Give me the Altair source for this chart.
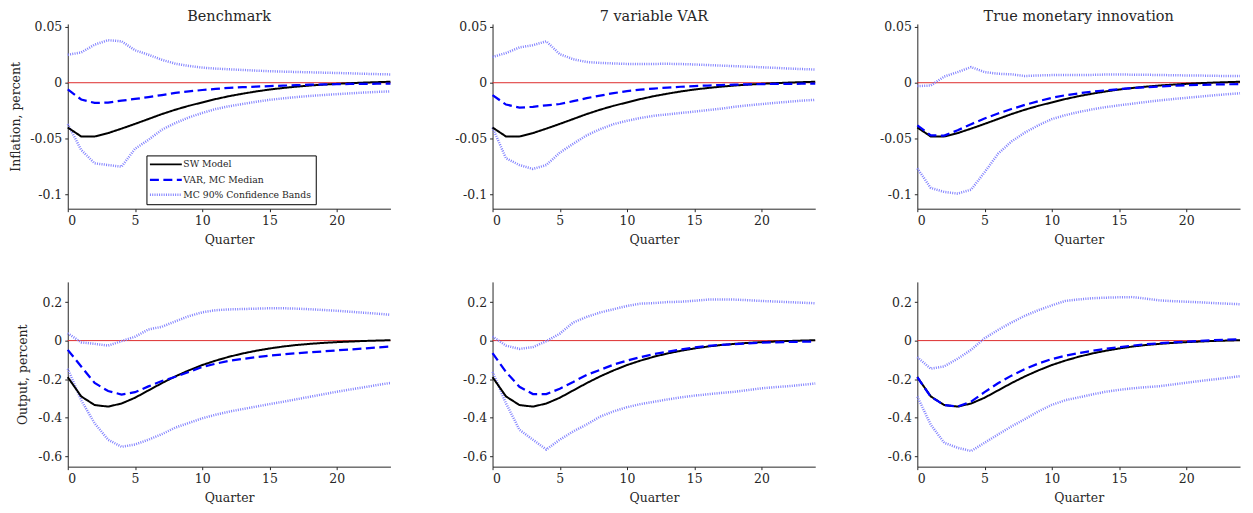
import altair as alt
import pandas as pd

quarters = list(range(25))

panel_titles = ["Benchmark", "7 variable VAR", "True monetary innovation"]
row_labels = ["Inflation, percent", "Output, percent"]
series_names = ["SW Model", "VAR, MC Median", "MC 90% Confidence Bands"]
x_ticks = [0, 5, 10, 15, 20]
infl_ticks = [-0.1, -0.05, 0, 0.05]
out_ticks = [-0.6, -0.4, -0.2, 0, 0.2]

# ---------------- Inflation (top row) ----------------
sw_infl = [-0.040, -0.048, -0.048, -0.045, -0.041, -0.0368, -0.0324, -0.028, -0.0241, -0.0206,
           -0.0176, -0.0146, -0.0120, -0.0098, -0.0078, -0.0061, -0.0047, -0.0035, -0.0025, -0.0017,
           -0.0010, -0.0004, 0.0001, 0.0005, 0.0009]

bench_infl_med = [-0.006, -0.015, -0.018, -0.0178, -0.016, -0.0145, -0.0128, -0.011, -0.009, -0.0078,
                  -0.0065, -0.0055, -0.0046, -0.004, -0.0035, -0.003, -0.0026, -0.0022, -0.0018, -0.0015,
                  -0.0013, -0.0011, -0.001, -0.0009, -0.0009]
bench_infl_hi = [0.025, 0.027, 0.034, 0.038, 0.037, 0.029, 0.025, 0.0205, 0.017, 0.015,
                 0.0135, 0.0126, 0.012, 0.0114, 0.0108, 0.0103, 0.0099, 0.0096, 0.0093, 0.009,
                 0.0087, 0.0084, 0.008, 0.0077, 0.0074]
bench_infl_lo = [-0.037, -0.060, -0.072, -0.0735, -0.075, -0.059, -0.051, -0.042, -0.036, -0.031,
                 -0.027, -0.0235, -0.021, -0.019, -0.017, -0.0153, -0.014, -0.0128, -0.0118, -0.011,
                 -0.0102, -0.0095, -0.0088, -0.0082, -0.0077]

var7_infl_med = [-0.011, -0.0195, -0.0222, -0.0215, -0.0202, -0.019, -0.0165, -0.0138, -0.0115, -0.0093,
                 -0.0075, -0.0062, -0.0052, -0.0043, -0.0036, -0.003, -0.0025, -0.0021, -0.0017, -0.0014,
                 -0.0012, -0.0011, -0.001, -0.0009, -0.0009]
var7_infl_hi = [0.023, 0.0265, 0.0315, 0.0335, 0.037, 0.0255, 0.021, 0.0185, 0.0177, 0.0172,
                0.0168, 0.0167, 0.0168, 0.0169, 0.0167, 0.0163, 0.0158, 0.0153, 0.0148, 0.0143,
                0.0138, 0.0133, 0.0127, 0.0122, 0.0118]
var7_infl_lo = [-0.040, -0.0675, -0.0735, -0.077, -0.0735, -0.0625, -0.0545, -0.047, -0.0415, -0.037,
                -0.034, -0.0315, -0.0295, -0.0283, -0.027, -0.0258, -0.0245, -0.0232, -0.0215, -0.0202,
                -0.0191, -0.018, -0.017, -0.016, -0.0153]

true_infl_med = [-0.038, -0.047, -0.0472, -0.0425, -0.037, -0.032, -0.0275, -0.0235, -0.0198, -0.0165,
                 -0.0135, -0.0112, -0.0095, -0.008, -0.0068, -0.0058, -0.0048, -0.004, -0.0033, -0.0027,
                 -0.0022, -0.0019, -0.0016, -0.0014, -0.0012]
true_infl_hi = [-0.003, -0.0025, 0.0055, 0.0095, 0.014, 0.0095, 0.008, 0.0075, 0.006, 0.0065,
                0.0068, 0.007, 0.0068, 0.007, 0.0073, 0.0073, 0.0072, 0.0071, 0.0069, 0.0067,
                0.0065, 0.0064, 0.0062, 0.006, 0.0059]
true_infl_lo = [-0.0765, -0.094, -0.0975, -0.099, -0.0955, -0.080, -0.0635, -0.0525, -0.0445, -0.038,
                -0.0325, -0.029, -0.0262, -0.0238, -0.0218, -0.0202, -0.0187, -0.0172, -0.0158, -0.0146,
                -0.0135, -0.0124, -0.0113, -0.0103, -0.0094]

# ---------------- Output (bottom row) ----------------
sw_out = [-0.19, -0.29, -0.335, -0.343, -0.327, -0.297, -0.259, -0.221, -0.186, -0.155,
          -0.127, -0.104, -0.084, -0.067, -0.053, -0.041, -0.031, -0.023, -0.017, -0.012,
          -0.008, -0.005, -0.002, 0.0, 0.002]

bench_out_med = [-0.048, -0.135, -0.22, -0.262, -0.28, -0.268, -0.238, -0.21, -0.188, -0.163,
                 -0.137, -0.12, -0.105, -0.095, -0.086, -0.078, -0.072, -0.066, -0.061, -0.056,
                 -0.051, -0.046, -0.041, -0.036, -0.031]
bench_out_hi = [0.038, -0.009, -0.017, -0.026, -0.003, 0.02, 0.058, 0.072, 0.1, 0.127,
                0.147, 0.158, 0.162, 0.164, 0.166, 0.168, 0.168, 0.166, 0.163, 0.159,
                0.155, 0.15, 0.145, 0.14, 0.134]
bench_out_lo = [-0.146, -0.31, -0.43, -0.515, -0.552, -0.54, -0.515, -0.486, -0.452, -0.428,
                -0.404, -0.385, -0.369, -0.356, -0.343, -0.33, -0.318, -0.305, -0.292, -0.279,
                -0.266, -0.254, -0.243, -0.231, -0.22]

var7_out_med = [-0.065, -0.163, -0.24, -0.278, -0.278, -0.25, -0.215, -0.178, -0.152, -0.125,
                -0.104, -0.086, -0.07, -0.058, -0.046, -0.036, -0.028, -0.022, -0.018, -0.014,
                -0.011, -0.009, -0.007, -0.006, -0.005]
var7_out_hi = [0.021, -0.026, -0.043, -0.034, -0.003, 0.036, 0.094, 0.123, 0.146, 0.163,
               0.18, 0.192, 0.195, 0.2, 0.202, 0.207, 0.213, 0.214, 0.213, 0.21,
               0.206, 0.203, 0.2, 0.197, 0.194]
var7_out_lo = [-0.163, -0.326, -0.463, -0.515, -0.566, -0.515, -0.472, -0.436, -0.395, -0.368,
               -0.346, -0.33, -0.318, -0.306, -0.295, -0.286, -0.279, -0.272, -0.266, -0.257,
               -0.248, -0.242, -0.237, -0.23, -0.223]

true_out_med = [-0.19, -0.292, -0.335, -0.343, -0.317, -0.268, -0.222, -0.182, -0.148, -0.119,
                -0.096, -0.079, -0.065, -0.053, -0.043, -0.034, -0.026, -0.019, -0.014, -0.009,
                -0.005, -0.002, 0.002, 0.005, 0.007]
true_out_hi = [-0.086, -0.146, -0.134, -0.094, -0.048, 0.012, 0.055, 0.094, 0.129, 0.158,
               0.183, 0.206, 0.214, 0.22, 0.223, 0.225, 0.226, 0.218, 0.209, 0.205,
               0.202, 0.199, 0.195, 0.192, 0.189]
true_out_lo = [-0.291, -0.437, -0.531, -0.557, -0.574, -0.531, -0.488, -0.446, -0.408, -0.368,
               -0.334, -0.31, -0.295, -0.28, -0.266, -0.256, -0.248, -0.242, -0.237, -0.228,
               -0.219, -0.21, -0.202, -0.194, -0.185]

FONT = "DejaVu Serif"
TXT = "#262626"
INFL_DOMAIN = [-0.1125, 0.0525]
OUT_DOMAIN = [-0.655, 0.305]
PW, PH = 324, 185.5
LABEL_EXPR = "replace(format(datum.value, '~g'), '\u2212', '-')"


def band_df(lo, hi):
    rows = []
    for q, v in zip(quarters, lo):
        rows.append({"q": q, "value": v, "series": series_names[2], "line": "lower"})
    for q, v in zip(quarters, hi):
        rows.append({"q": q, "value": v, "series": series_names[2], "line": "upper"})
    return pd.DataFrame(rows)


def single_df(vals, name):
    return pd.DataFrame({"q": quarters, "value": vals, "series": name, "line": name})


def panel(sw, med, lo, hi, title, ylabel, ydomain, yticks, title_x, show_legend):
    if show_legend:
        leg = alt.Legend(
            orient="none", legendX=79, legendY=132, title=None,
            symbolType="M-4,0H4", symbolSize=64, symbolOffset=10,
            labelOffset=12, labelFont=FONT, labelFontSize=9.3, labelColor=TXT,
            strokeColor="black", fillColor="white", padding=4, rowPadding=4,
        )
    else:
        leg = None
    xenc = alt.X("q:Q", scale=alt.Scale(domain=[0, 24], nice=False, zero=False),
                 axis=alt.Axis(values=x_ticks, title="Quarter", format="d"))
    if ylabel is None:
        yaxis = alt.Axis(values=yticks, title=None, labelExpr=LABEL_EXPR)
    else:
        yaxis = alt.Axis(values=yticks, title=ylabel, labelExpr=LABEL_EXPR,
                         titleX=title_x, titleBaseline="bottom")
    yenc = alt.Y("value:Q", scale=alt.Scale(domain=ydomain, nice=False, zero=False), axis=yaxis)
    color = alt.Color("series:N", scale=alt.Scale(domain=series_names, range=["#000000", "#0000ff", "#8080ff"]), legend=leg)
    dash = alt.StrokeDash("series:N", scale=alt.Scale(domain=series_names, range=[[1, 0], [9, 4.5], [1, 1.3]]), legend=leg)
    width = alt.StrokeWidth("series:N", scale=alt.Scale(domain=series_names, range=[2, 2.5, 0.7]), legend=leg)

    zero = alt.Chart(pd.DataFrame({"value": [0]})).mark_rule(color="#dd2c2c", strokeWidth=1).encode(y=yenc)
    bands = alt.Chart(band_df(lo, hi)).mark_line().encode(
        x=xenc, y=yenc, color=color, strokeDash=dash, strokeWidth=width, detail="line:N")
    swl = alt.Chart(single_df(sw, series_names[0])).mark_line().encode(
        x=xenc, y=yenc, color=color, strokeDash=dash, strokeWidth=width)
    medl = alt.Chart(single_df(med, series_names[1])).mark_line().encode(
        x=xenc, y=yenc, color=color, strokeDash=dash, strokeWidth=width)
    layered = alt.layer(zero, bands, swl, medl).properties(width=PW, height=PH)
    if title is not None:
        layered = layered.properties(title=alt.TitleParams(
            text=title, font=FONT, fontSize=14.5, fontWeight="normal", color=TXT,
            baseline="alphabetic", offset=-15, frame="group"))
    return layered


p1 = panel(sw_infl, bench_infl_med, bench_infl_lo, bench_infl_hi, panel_titles[0], row_labels[0], INFL_DOMAIN, infl_ticks, -45, True)
p2 = panel(sw_infl, var7_infl_med, var7_infl_lo, var7_infl_hi, panel_titles[1], None, INFL_DOMAIN, infl_ticks, -45, False)
p3 = panel(sw_infl, true_infl_med, true_infl_lo, true_infl_hi, panel_titles[2], None, INFL_DOMAIN, infl_ticks, -45, False)
p4 = panel(sw_out, bench_out_med, bench_out_lo, bench_out_hi, None, row_labels[1], OUT_DOMAIN, out_ticks, -38, False)
p5 = panel(sw_out, var7_out_med, var7_out_lo, var7_out_hi, None, None, OUT_DOMAIN, out_ticks, -38, False)
p6 = panel(sw_out, true_out_med, true_out_lo, true_out_hi, None, None, OUT_DOMAIN, out_ticks, -38, False)

chart = alt.concat(p1, p2, p3, p4, p5, p6, columns=3, spacing={"row": 73, "column": 102.5}, bounds="flush").resolve_scale(
    color="independent", strokeDash="independent", strokeWidth="independent", x="independent", y="independent"
).resolve_legend(
    color="independent", strokeDash="independent", strokeWidth="independent"
).properties(
    padding={"left": 2, "top": 0, "right": 0, "bottom": 0}
).configure_axis(
    labelFont=FONT, titleFont=FONT, labelFontSize=12.5, titleFontSize=12.5,
    labelColor=TXT, titleColor=TXT, titleFontWeight="normal",
    domainColor=TXT, tickColor=TXT, tickSize=3, labelPadding=3, titlePadding=6,
    grid=False,
).configure_legend(
    labelFont=FONT, labelFontSize=9.3, labelColor=TXT,
).configure_view(stroke=None)

chart.save("out.html", embed_options={"renderer": "svg", "actions": False})
